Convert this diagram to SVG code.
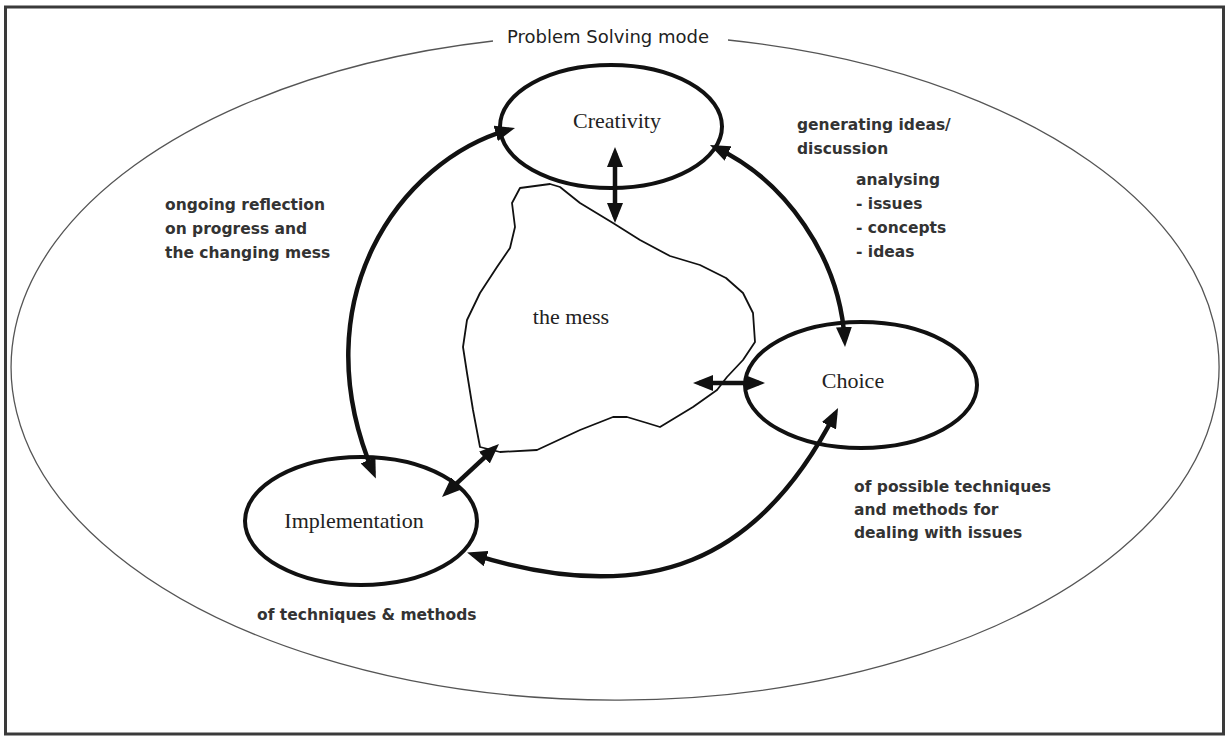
<svg xmlns="http://www.w3.org/2000/svg" width="1225" height="737" viewBox="0 0 1225 737">
  <defs>
    <style>
      .frame { fill: #ffffff; stroke: #3a3a3a; stroke-width: 3; }
      .mode { fill: none; stroke: #555555; stroke-width: 1.3; }
      .node { fill: none; stroke: #111111; stroke-width: 4; }
      .mess { fill: none; stroke: #111111; stroke-width: 1.8; stroke-linejoin: round; }
      .link { fill: none; stroke: #111111; stroke-width: 4.5; marker-start: url(#head); marker-end: url(#head); }
      .serif { font-family: "Liberation Serif", "Times New Roman", serif; font-size: 22px; fill: #222222; text-anchor: middle; }
      .note { font-family: "DejaVu Sans", "Liberation Sans", sans-serif; font-weight: bold; font-size: 15.5px; fill: #333333; }
      .title { font-family: "DejaVu Sans", "Liberation Sans", sans-serif; font-size: 18px; fill: #222222; }
    </style>
    <marker id="head" viewBox="0 0 20 16" refX="14" refY="8" markerWidth="20" markerHeight="16" markerUnits="userSpaceOnUse" orient="auto-start-reverse">
      <path d="M0,0 L20,8 L0,16 Z" fill="#111111"/>
    </marker>
  </defs>

  <!-- page frame -->
  <rect class="frame" x="5.5" y="7" width="1218" height="727"/>

  <!-- problem solving mode boundary, open at the top for its title -->
  <g id="mode">
    <path class="mode" d="M728,40 A604,333 0 1 1 493,41"/>
    <text class="title" x="507" y="43">Problem Solving mode</text>
  </g>

  <!-- the mess -->
  <g id="mess">
    <path class="mess" d="M520,188 L550,184 L560,187 L580,203 L613,223 L640,240 L670,256 L700,265 L726,278 L743,293 L753,313 L755,342 L743,360 L727,377 L717,390 L693,407 L660,427 L647,423 L627,417 L613,417 L580,430 L537,450 L500,452 L480,447 L473,410 L467,373 L463,347 L467,320 L480,293 L497,267 L510,248 L515,227 L512,203 Z"/>
    <text class="serif" x="571" y="324">the mess</text>
  </g>

  <!-- activity nodes -->
  <g id="creativity">
    <ellipse class="node" cx="611" cy="126.5" rx="111" ry="61.5"/>
    <text class="serif" x="617" y="128">Creativity</text>
  </g>
  <g id="choice">
    <ellipse class="node" cx="861" cy="385" rx="116" ry="63"/>
    <text class="serif" x="853" y="388">Choice</text>
  </g>
  <g id="implementation">
    <ellipse class="node" cx="361" cy="521" rx="116" ry="64"/>
    <text class="serif" x="354" y="528">Implementation</text>
  </g>

  <!-- two-way connectors -->
  <g id="connectors">
    <path class="link" d="M615,153 L615,217"/>
    <path class="link" d="M699,383 L759,383"/>
    <path class="link" d="M494.6,448.1 L446.4,492.9"/>
    <path class="link" d="M509.2,129.6 C400,160 300,300 373.5,473.1"/>
    <path class="link" d="M715.4,147.5 C785,180 840,257 844.7,341"/>
    <path class="link" d="M472.8,554.4 C650,610 760,560 835.3,413.3"/>
  </g>

  <!-- annotations -->
  <g id="notes">
    <text class="note" x="797" y="130">generating ideas/</text>
    <text class="note" x="797" y="154">discussion</text>
    <text class="note" x="856" y="185">analysing</text>
    <text class="note" x="856" y="209">- issues</text>
    <text class="note" x="856" y="233">- concepts</text>
    <text class="note" x="856" y="257">- ideas</text>
    <text class="note" x="165" y="210">ongoing reflection</text>
    <text class="note" x="165" y="234">on progress and</text>
    <text class="note" x="165" y="258">the changing mess</text>
    <text class="note" x="854" y="492">of possible techniques</text>
    <text class="note" x="854" y="515">and methods for</text>
    <text class="note" x="854" y="538">dealing with issues</text>
    <text class="note" x="257" y="620">of techniques &amp; methods</text>
  </g>
</svg>
